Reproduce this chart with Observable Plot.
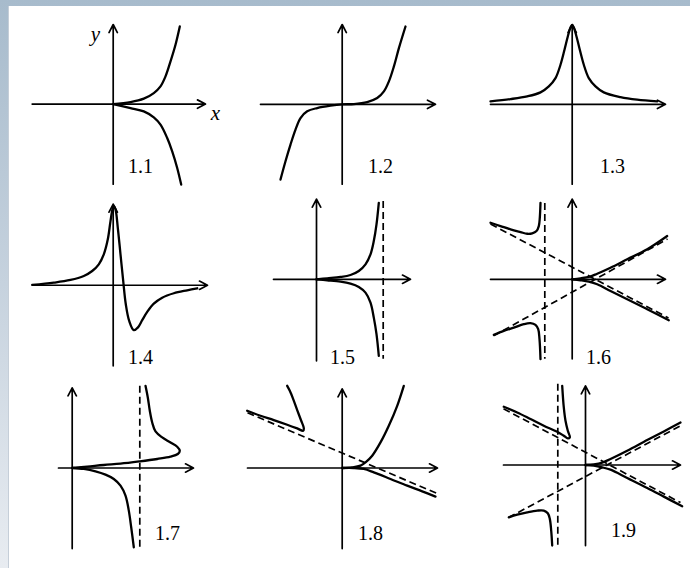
<!DOCTYPE html>
<html>
<head>
<meta charset="utf-8">
<script src="https://cdn.jsdelivr.net/npm/d3@7"></script>
<script src="https://cdn.jsdelivr.net/npm/@observablehq/plot@0.6"></script>
<style>
  html, body { margin: 0; padding: 0; }
  body {
    width: 690px; height: 568px; overflow: hidden; position: relative;
    background: linear-gradient(to bottom, #a7bbcc 0%, #c6d2de 50%, #e8ecf1 100%);
  }
  #sheet {
    position: absolute; left: 9px; top: 6px; width: 681px; height: 562px;
    background: #fff; box-shadow: -1px 0 0 #c5ced8;
  }
  #sheet svg { display: block; }
  #sheet svg text { font-family: "Liberation Serif", "Times New Roman", "DejaVu Serif", serif; }
</style>
</head>
<body>
<div id="sheet"></div>
<script>
// Nine sketches of curves (1.1 – 1.9) in a 3×3 grid.
// Each panel has its own axes; coordinates are in grid units (one unit = 10 px),
// measured from the panel's own origin, with y pointing up.

const panelNames = ["1.1", "1.2", "1.3", "1.4", "1.5", "1.6", "1.7", "1.8", "1.9"];
const panelCol   = [0, 1, 2, 0, 1, 2, 0, 1, 2];
const panelRow   = [0, 0, 0, 1, 1, 1, 2, 2, 2];
// where each panel's origin sits inside its cell (cell = 22.7 × 18.73 units)
const originX = [10.37, 10.57, 10.87, 10.37, 8.0, 10.87, 6.27, 10.57, 12.2];
const originY = [9.06, 9.03, 9.03, 9.64, 10.24, 10.24, 10.07, 10.07, 10.37];
// axis extents: [x from, x to, y from, y to]
const axisExtent = [
  [-8.1, 9.23, -8.03, 7.97],
  [-8.17, 9.33, -8.0, 8.0],
  [-8.17, 9.33, -8.0, 8.0],
  [-8.07, 9.43, -8.07, 8.13],
  [-4.3, 9.4, -8.17, 8.03],
  [-8.17, 9.33, -7.97, 8.03],
  [-1.37, 12.13, -8.07, 8.03],
  [-9.47, 9.53, -8.07, 7.93],
  [-8.2, 9.5, -8.07, 7.93]
];
// position of each panel's number
const labelPos = [[2.73, -6.23], [3.83, -6.2], [4.03, -6.2], [2.73, -7.27], [2.6, -7.87],
                  [2.63, -7.87], [9.53, -6.57], [2.83, -6.57], [3.8, -6.57]];

// ---- curves, panel by panel ----
const c11Upper = [[0,0],[1.73,0.2],[3.06,0.54],[4.06,1.1],[4.73,1.77],[5.23,2.77],[5.73,4.27],[6.23,5.94],[6.66,7.77]];
const c11Lower = [[0,0],[1.73,-0.4],[3.06,-0.73],[4.06,-1.33],[4.73,-2.06],[5.4,-3.4],[5.9,-4.73],[6.4,-6.4],[6.8,-8.06]];

const c12 = [[-6.17,-7.53],[-5.67,-5.7],[-5.17,-4.03],[-4.67,-2.53],[-4.17,-1.37],[-3.5,-0.7],[-2.5,-0.37],
             [-1.17,-0.13],[0,0],[1.17,0.03],[2.5,0.23],[3.5,0.63],[4.17,1.3],[4.67,2.3],[5.17,3.8],[5.67,5.63],[6.33,7.8]];

const c13 = [[-8.17,0.3],[-6.17,0.53],[-4.5,0.8],[-3.17,1.2],[-2.34,1.8],[-1.67,2.63],[-1.17,3.97],[-0.77,5.47],
             [-0.44,6.8],[-0.17,7.7],[0,7.97],[0.16,7.7],[0.43,6.8],[0.76,5.47],[1.16,3.97],[1.66,2.63],[2.33,1.8],
             [3.16,1.2],[4.83,0.73],[6.5,0.47],[8.5,0.3]];

const c14 = [[-8.1,0.03],[-5.94,0.26],[-4.27,0.53],[-2.94,0.93],[-2.1,1.43],[-1.44,2.1],[-0.94,3.1],[-0.54,4.6],
             [-0.27,6.43],[-0.07,7.6],[0.06,7.93],[0.23,7.6],[0.46,5.76],[0.73,3.1],[1.0,0.43],[1.26,-1.9],
             [1.6,-3.57],[2.06,-4.5],[2.46,-4.24],[2.9,-3.5],[3.4,-2.67],[4.06,-1.84],[4.9,-1.24],[6.06,-0.8],
             [7.4,-0.5],[8.4,-0.3]];

const c15Upper = [[0,0],[1.07,0.1],[2.4,0.23],[3.4,0.43],[4.23,0.83],[4.9,1.5],[5.4,2.5],[5.73,3.83],[6.0,5.5],[6.23,7.66]];
const c15Lower = [[0,0],[1.07,-0.1],[2.4,-0.24],[3.4,-0.44],[4.23,-0.77],[4.9,-1.34],[5.4,-2.34],[5.73,-3.84],[6.0,-5.5],[6.23,-7.67]];

const c16UpperLeft  = [[-8.17,5.66],[-7.17,5.33],[-6.17,5.0],[-5.17,4.73],[-4.5,4.56],[-4.0,4.6],[-3.57,4.83],[-3.34,5.33],[-3.24,6.16],[-3.17,7.66]];
const c16LowerLeft  = [[-7.84,-5.57],[-6.84,-5.17],[-5.84,-4.84],[-4.84,-4.5],[-4.17,-4.4],[-3.67,-4.57],[-3.4,-5.0],[-3.27,-6.0],[-3.17,-8.0]];
const c16UpperRight = [[0,0],[0.83,0.1],[1.66,0.23],[2.5,0.56],[3.83,1.16],[5.5,2.0],[7.5,3.0],[9.5,4.33]];
const c16LowerRight = [[0,0],[0.83,-0.1],[1.66,-0.24],[2.5,-0.5],[3.83,-1.17],[5.5,-2.0],[7.5,-3.0],[9.66,-4.1]];

const c17Lower = [[0,0],[1.16,-0.1],[2.33,-0.34],[3.33,-0.67],[4.16,-1.1],[4.83,-1.77],[5.33,-2.77],[5.66,-4.27],[5.9,-5.94],[6.16,-7.94]];
const c17Upper = [[0,0],[1.5,0.13],[3.16,0.3],[4.83,0.43],[6.76,0.66],[8.5,0.9],[9.83,1.13],[10.56,1.4],[10.76,1.73],
                  [10.5,2.13],[9.83,2.56],[9.0,3.06],[8.33,3.66],[8.0,4.56],[7.76,5.73],[7.56,7.06],[7.33,8.23]];

const c18UpperLeft  = [[-9.5,5.73],[-8.17,5.23],[-6.84,4.8],[-5.5,4.33],[-4.5,3.96],[-3.9,3.73],[-3.84,4.0],[-4.1,4.73],
                       [-4.5,5.8],[-4.9,6.9],[-5.24,7.73],[-5.5,8.23]];
const c18UpperRight = [[0,0],[1.0,0.06],[1.83,0.23],[2.33,0.56],[3.0,1.23],[3.83,2.56],[4.66,4.23],[5.5,6.23],[6.16,8.23]];
const c18LowerRight = [[0,0],[1.16,0],[2.16,-0.1],[3.16,-0.44],[4.83,-1.1],[6.5,-1.77],[8.0,-2.34],[9.33,-2.87]];

const c19UpperLeft  = [[-8.17,5.83],[-6.83,5.26],[-5.5,4.6],[-4.17,3.93],[-2.83,3.33],[-2.17,2.93],[-1.77,2.66],[-1.57,2.76],
                       [-1.77,3.43],[-2.0,4.43],[-2.17,5.76],[-2.33,7.93]];
const c19LowerLeft  = [[-7.67,-5.24],[-6.83,-4.97],[-5.83,-4.74],[-4.83,-4.57],[-4.17,-4.57],[-3.77,-4.84],[-3.57,-5.4],[-3.43,-6.57],[-3.33,-8.07]];
const c19UpperRight = [[0,0],[0.83,0.06],[1.67,0.23],[2.5,0.6],[4.17,1.43],[6.17,2.5],[7.83,3.36],[9.5,4.26]];
const c19LowerRight = [[0,0],[0.83,-0.07],[1.67,-0.24],[2.5,-0.47],[4.17,-1.3],[6.17,-2.3],[7.83,-3.17],[9.67,-4.14]];

// solid curves: [panel index, points]
const solidCurves = [
  [0, c11Upper], [0, c11Lower],
  [1, c12],
  [2, c13],
  [3, c14],
  [4, c15Upper], [4, c15Lower],
  [5, c16UpperLeft], [5, c16LowerLeft], [5, c16UpperRight], [5, c16LowerRight],
  [6, c17Lower], [6, c17Upper],
  [7, c18UpperLeft], [7, c18UpperRight], [7, c18LowerRight],
  [8, c19UpperLeft], [8, c19LowerLeft], [8, c19UpperRight], [8, c19LowerRight]
];

// asymptotes (dashed): [panel, x1, y1, x2, y2]
const asymptotes = [
  [4, 6.67, 7.83, 6.67, -7.97],
  [5, -2.74, 7.63, -2.74, -7.97],
  [5, -8.17, 5.53, 9.63, -3.87],
  [5, -7.87, -5.67, 9.53, 4.03],
  [6, 6.76, 8.23, 6.76, -8.07],
  [7, -9.47, 5.53, 9.53, -2.57],
  [8, -2.77, 8.13, -2.77, -8.07],
  [8, -8.2, 5.63, 9.5, -3.77],
  [8, -7.7, -5.27, 9.5, 3.93]
];

// axis names shown on the first panel: [text, x, y]
const axisNames = [["y", -1.77, 6.97], ["x", 10.23, -0.93]];

// ---- tables for the marks ----
const cell = (p) => ({col: panelCol[p], row: panelRow[p]});

const axesTable = panelNames.flatMap((name, p) => {
  const [x0, x1, y0, y1] = axisExtent[p];
  return [
    {...cell(p), x1: originX[p] + x0, y1: originY[p], x2: originX[p] + x1, y2: originY[p]},
    {...cell(p), x1: originX[p], y1: originY[p] + y0, x2: originX[p], y2: originY[p] + y1}
  ];
});

const curveTable = solidCurves.flatMap(([p, pts], i) =>
  pts.map(([dx, dy]) => ({...cell(p), id: i, x: originX[p] + dx, y: originY[p] + dy})));

const dashTable = asymptotes.map(([p, x1, y1, x2, y2]) => ({
  ...cell(p), x1: originX[p] + x1, y1: originY[p] + y1, x2: originX[p] + x2, y2: originY[p] + y2
}));

const labelTable = panelNames.map((name, p) => ({
  ...cell(p), text: name, x: originX[p] + labelPos[p][0], y: originY[p] + labelPos[p][1]
}));

const nameTable = axisNames.map(([t, dx, dy]) => ({...cell(0), text: t, x: originX[0] + dx, y: originY[0] + dy}));

const serif = "Liberation Serif, Times New Roman, DejaVu Serif, serif";

const chart = Plot.plot({
  width: 681,
  height: 562,
  margin: 0,
  style: {background: "transparent", overflow: "visible", fontFamily: serif},
  x: {domain: [0, 22.7], axis: null},
  y: {domain: [0, 18.733], axis: null},
  fx: {domain: [0, 1, 2], padding: 0, axis: null},
  fy: {domain: [0, 1, 2], padding: 0, axis: null},
  marks: [
    Plot.arrow(axesTable, {
      x1: "x1", y1: "y1", x2: "x2", y2: "y2", fx: "col", fy: "row",
      stroke: "#000", strokeWidth: 1.7, headLength: 8, headAngle: 55
    }),
    Plot.link(dashTable, {
      x1: "x1", y1: "y1", x2: "x2", y2: "y2", fx: "col", fy: "row",
      stroke: "#000", strokeWidth: 1.7, strokeDasharray: "7,4"
    }),
    Plot.line(curveTable, {
      x: "x", y: "y", z: "id", fx: "col", fy: "row",
      curve: "catmull-rom", stroke: "#000", strokeWidth: 2.3,
      strokeLinejoin: "round", strokeLinecap: "round"
    }),
    Plot.text(labelTable, {
      x: "x", y: "y", text: "text", fx: "col", fy: "row",
      fontFamily: serif, fontSize: 20, fill: "#000"
    }),
    Plot.text(nameTable, {
      x: "x", y: "y", text: "text", fx: "col", fy: "row",
      fontFamily: serif, fontStyle: "italic", fontSize: 21, fill: "#000"
    })
  ]
});

document.getElementById("sheet").appendChild(chart);
</script>
</body>
</html>
